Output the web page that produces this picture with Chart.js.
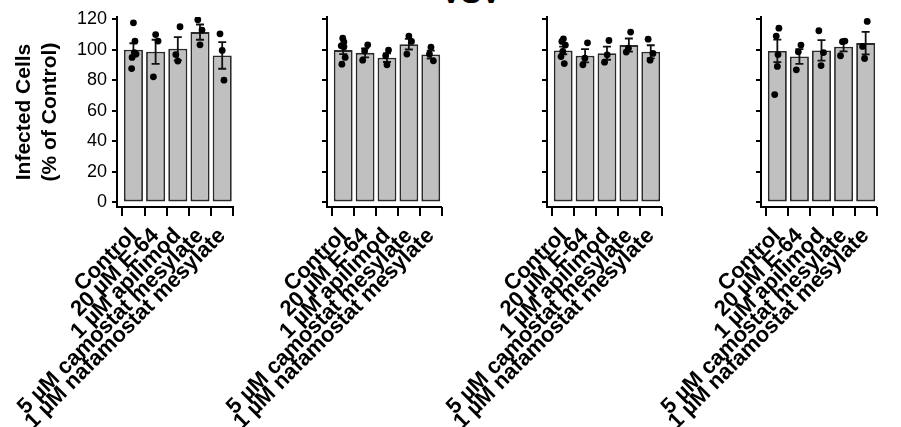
<!DOCTYPE html>
<html lang="en">
<head>
<meta charset="UTF-8">
<title>VSV</title>
<script src="https://cdn.jsdelivr.net/npm/chart.js@4.4.1/dist/chart.umd.min.js"></script>
<style>
  body { margin: 0; background: #fff; }
  #wrap { position: relative; width: 901px; height: 427px; overflow: hidden; font-family: "Liberation Sans", Arial, sans-serif; }
  #wrap canvas { position: absolute; left: 0; top: 0; }
  #title { position: absolute; left: 371px; width: 200px; top: -22px; text-align: center; font-weight: bold; font-size: 30px; line-height: 30px; }
</style>
</head>
<body>
<div id="wrap">
  <div id="title">VSV</div>
  <canvas id="c1" width="901" height="427"></canvas>
  <canvas id="c2" width="901" height="427"></canvas>
  <canvas id="c3" width="901" height="427"></canvas>
  <canvas id="c4" width="901" height="427"></canvas>
</div>
<script>
const categories = ['Control', '20 µM E-64', '1 µM apilimod', '5 µM camostat mesylate', '1 µM nafamostat mesylate'];
const yTicks = [0, 20, 40, 60, 80, 100, 120];

// panel 1
const p1Mean = [100, 98.7, 100.7, 111.6, 96.3];
const p1Sem = [4.3, 7.9, 7.6, 5.0, 8.7];
const p1Dots = [[117.7, 105.7, 98.2, 97.2, 95.0, 87.7], [110.0, 105.7, 82.3], [115.1, 96.9, 92.6], [119.7, 112.9, 103.3], [110.5, 99.6, 80.1]];
const p1Jitter = [[0, 0.07, 0.04, 0.12, -0.06, -0.08], [0, 0.11, -0.1], [0.1, -0.09, 0], [-0.1, 0.09, 0], [-0.1, 0, 0.08]];

// panel 2
const p2Mean = [99.8, 98.0, 94.8, 103.7, 96.9];
const p2Sem = [2.6, 2.9, 2.8, 3.5, 2.6];
const p2Dots = [[107.6, 105.2, 102.6, 101.9, 95.0, 90.6], [103.3, 99.3, 93.2], [99.8, 96.1, 90.2], [109.0, 105.5, 97.2], [101.7, 97.2, 92.8]];
const p2Jitter = [[-0.02, 0.03, -0.09, 0.03, 0.09, -0.06], [0.12, -0.02, -0.11], [0.07, -0.06, 0], [0, 0.12, -0.09], [0.01, -0.06, 0.12]];

// panel 3
const p3Mean = [99.6, 96.1, 97.8, 103.1, 98.7];
const p3Sem = [2.5, 4.3, 4.3, 4.3, 4.3];
const p3Dots = [[107.2, 105.5, 103.1, 98.9, 95.6, 91.0], [104.6, 94.5, 90.2], [106.1, 96.7, 91.9], [111.6, 101.1, 98.5], [107.0, 97.6, 93.2]];
const p3Jitter = [[0.01, -0.06, 0.1, -0.02, -0.1, 0.05], [0.11, -0.01, -0.1], [0.09, 0.01, -0.11], [0.08, -0.02, -0.12], [-0.12, 0.1, -0.03]];

// panel 4
const p4Mean = [99.3, 95.6, 99.6, 102.0, 104.4];
const p4Sem = [7.4, 4.8, 6.7, 3.0, 7.4];
const p4Dots = [[114.2, 109.0, 96.9, 89.1, 70.7], [103.1, 98.7, 86.9], [112.5, 98.2, 89.7], [105.7, 105.3, 96.1], [118.6, 102.2, 94.3]];
const p4Jitter = [[0.07, -0.05, 0.03, 0, -0.12], [0.07, -0.05, -0.14], [-0.12, 0.09, -0.02], [0.06, -0.05, -0.14], [0.07, -0.14, -0.05]];

const FONT = '"Liberation Sans", Arial, sans-serif';

const panels = [
  { id: 'c1', mean: p1Mean, sem: p1Sem, dots: p1Dots, jitter: p1Jitter, axisX: 117, right: 233.3, labels: true },
  { id: 'c2', mean: p2Mean, sem: p2Sem, dots: p2Dots, jitter: p2Jitter, axisX: 327, right: 441.7, labels: false },
  { id: 'c3', mean: p3Mean, sem: p3Sem, dots: p3Dots, jitter: p3Jitter, axisX: 547, right: 661.7, labels: false },
  { id: 'c4', mean: p4Mean, sem: p4Sem, dots: p4Dots, jitter: p4Jitter, axisX: 761, right: 876.7, labels: false }
];

// SEM whiskers, drawn right after the bars so the dots sit on top
const errorBars = {
  id: 'errorBars',
  afterDatasetDraw(chart, args, opts) {
    if (args.meta.type !== 'bar') return;
    const { ctx, scales: { x, y } } = chart;
    ctx.save();
    ctx.strokeStyle = '#111';
    ctx.lineWidth = 1.8;
    opts.mean.forEach((m, i) => {
      const cx = x.getPixelForValue(i);
      const top = y.getPixelForValue(m + opts.sem[i]);
      const bot = y.getPixelForValue(m - opts.sem[i]);
      ctx.beginPath();
      ctx.moveTo(cx, top); ctx.lineTo(cx, bot);
      ctx.moveTo(cx - 4, top); ctx.lineTo(cx + 4, top);
      ctx.moveTo(cx - 4, bot); ctx.lineTo(cx + 4, bot);
      ctx.stroke();
    });
    ctx.restore();
  }
};

// tick marks between the categories, like the prism style x axis
const boundaryTicks = {
  id: 'boundaryTicks',
  afterDraw(chart) {
    const { ctx, chartArea, scales: { x } } = chart;
    ctx.save();
    ctx.strokeStyle = '#000';
    ctx.lineWidth = 2;
    for (let k = 0; k <= categories.length; k++) {
      const px = Math.round(x.getPixelForValue(k - 0.5));
      ctx.beginPath();
      ctx.moveTo(px, chartArea.bottom);
      ctx.lineTo(px, chartArea.bottom + 9);
      ctx.stroke();
    }
    ctx.restore();
  }
};

function makePanel(p) {
  const yWidth = p.labels ? 106 : 8;
  const barData = p.mean.map((m, i) => ({ x: i, y: m }));
  const dotData = [];
  p.dots.forEach((arr, i) => arr.forEach((v, j) => dotData.push({ x: i + p.jitter[i][j], y: v })));

  new Chart(document.getElementById(p.id), {
    type: 'bar',
    data: {
      datasets: [
        {
          type: 'scatter',
          data: dotData,
          pointRadius: 3.4,
          pointBackgroundColor: '#000',
          pointBorderWidth: 0,
          order: 1
        },
        {
          type: 'bar',
          data: barData,
          backgroundColor: '#c0c0c0',
          borderColor: '#2a2a2a',
          borderWidth: 1.8,
          borderSkipped: false,
          barPercentage: 0.86,
          categoryPercentage: 1,
          order: 2
        }
      ]
    },
    options: {
      responsive: false,
      animation: false,
      devicePixelRatio: 1,
      layout: { padding: { left: p.axisX - yWidth, right: 901 - p.right, top: 17, bottom: 0 } },
      plugins: {
        legend: { display: false },
        tooltip: { enabled: false },
        errorBars: { mean: p.mean, sem: p.sem }
      },
      scales: {
        x: {
          type: 'linear',
          min: -0.74,
          max: 4.5,
          offset: false,
          afterBuildTicks: s => { s.ticks = categories.map((c, i) => ({ value: i })); },
          afterFit: s => { s.height = 220; },
          grid: { drawOnChartArea: false, drawTicks: true, tickLength: 8, color: 'rgba(0,0,0,0)', offset: false },
          border: { color: '#000', width: 2 },
          ticks: {
            autoSkip: false,
            minRotation: 45,
            maxRotation: 45,
            padding: 8,
            color: '#000',
            font: { family: FONT, size: 22, weight: 'bold' },
            callback: v => categories[v]
          }
        },
        y: {
          min: -3,
          max: 121.5,
          afterBuildTicks: s => { s.ticks = yTicks.map(v => ({ value: v })); },
          afterFit: s => { s.width = yWidth; },
          grid: { drawOnChartArea: false, drawTicks: true, tickLength: 5, color: '#000', lineWidth: 2 },
          border: { color: '#000', width: 2 },
          ticks: { display: p.labels, color: '#000', padding: 5, font: { family: FONT, size: 18 } },
          title: {
            display: p.labels,
            text: ['Infected Cells', '(% of Control)'],
            color: '#000',
            padding: 0,
            font: { family: FONT, size: 21, weight: 'bold', lineHeight: 1.25 }
          }
        }
      }
    },
    plugins: [errorBars, boundaryTicks]
  });
}

panels.forEach(makePanel);
</script>
</body>
</html>
